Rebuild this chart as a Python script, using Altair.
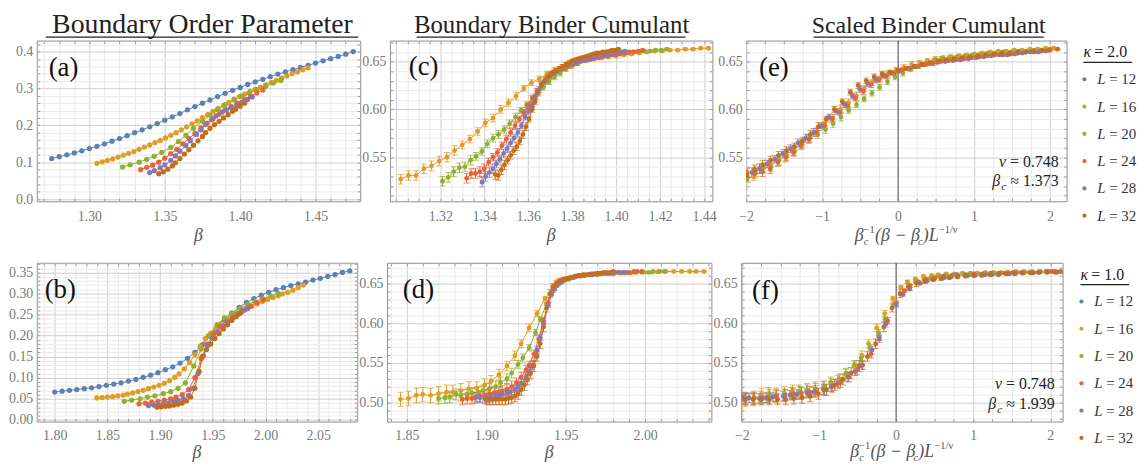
import altair as alt
import pandas as pd

FONT = "Liberation Serif"
SIZES = [12, 16, 20, 24, 28, 32]
COLORS = ["#5E81B5", "#E19C24", "#8FB032", "#EB6235", "#8778B3", "#C56E1A"]
LABEL_GRAY = "#7a7a7a"
FRAME_GRAY = "#8f8f8f"
TEXT_DARK = "#222222"

# ---------------- panel (a): boundary order parameter, kappa = 2.0 ----------------
a_x_12 = [1.275, 1.280, 1.285, 1.290, 1.295, 1.300, 1.305, 1.310, 1.315, 1.320, 1.325, 1.330, 1.335, 1.340,
          1.345, 1.350, 1.355, 1.360, 1.365, 1.370, 1.375, 1.380, 1.385, 1.390, 1.395, 1.400, 1.405, 1.410,
          1.415, 1.420, 1.425, 1.430, 1.435, 1.440, 1.445, 1.450, 1.455, 1.460, 1.465, 1.470, 1.475]
a_y_12 = [0.110, 0.115, 0.120, 0.125, 0.131, 0.137, 0.143, 0.150, 0.157, 0.164, 0.172, 0.180, 0.188, 0.196,
          0.205, 0.214, 0.223, 0.232, 0.242, 0.251, 0.260, 0.269, 0.278, 0.287, 0.295, 0.303, 0.311, 0.318,
          0.325, 0.332, 0.339, 0.345, 0.351, 0.357, 0.363, 0.369, 0.375, 0.381, 0.387, 0.393, 0.400]
a_x_16 = [1.305, 1.3085, 1.312, 1.3155, 1.319, 1.3225, 1.326, 1.3295, 1.333, 1.3365, 1.340, 1.3435, 1.347,
          1.3505, 1.354, 1.3575, 1.361, 1.3645, 1.368, 1.3715, 1.375, 1.3785, 1.382, 1.3855, 1.389, 1.3925,
          1.396, 1.3995, 1.403, 1.4065, 1.410, 1.4135, 1.417, 1.4205, 1.424, 1.4275, 1.431, 1.4345, 1.438,
          1.4415, 1.445]
a_y_16 = [0.097, 0.101, 0.105, 0.109, 0.114, 0.119, 0.124, 0.129, 0.135, 0.141, 0.147, 0.153, 0.159, 0.166,
          0.173, 0.180, 0.188, 0.196, 0.204, 0.212, 0.221, 0.229, 0.238, 0.246, 0.254, 0.262, 0.271, 0.278,
          0.285, 0.292, 0.298, 0.304, 0.310, 0.316, 0.322, 0.328, 0.334, 0.340, 0.345, 0.351, 0.356]
a_x_20 = [1.322, 1.327, 1.333, 1.338, 1.343, 1.348, 1.354, 1.359, 1.364, 1.369, 1.375, 1.380, 1.385, 1.390,
          1.396, 1.401, 1.406, 1.411, 1.417, 1.422, 1.427]
a_y_20 = [0.087, 0.093, 0.100, 0.108, 0.116, 0.127, 0.140, 0.156, 0.173, 0.192, 0.211, 0.228, 0.243, 0.256,
          0.269, 0.279, 0.288, 0.297, 0.306, 0.315, 0.322]
a_x_24 = [1.334, 1.338, 1.342, 1.346, 1.350, 1.354, 1.358, 1.362, 1.366, 1.370, 1.374, 1.378, 1.382, 1.386,
          1.390, 1.394, 1.398, 1.403, 1.407, 1.411, 1.415]
a_y_24 = [0.080, 0.086, 0.092, 0.100, 0.111, 0.123, 0.135, 0.150, 0.164, 0.178, 0.193, 0.206, 0.218, 0.230,
          0.241, 0.251, 0.260, 0.270, 0.279, 0.288, 0.296]
a_x_28 = [1.340, 1.343, 1.347, 1.350, 1.354, 1.357, 1.360, 1.364, 1.367, 1.371, 1.374, 1.377, 1.381, 1.384,
          1.388, 1.391, 1.394, 1.398, 1.401, 1.405, 1.408]
a_y_28 = [0.072, 0.077, 0.085, 0.093, 0.105, 0.117, 0.130, 0.145, 0.158, 0.175, 0.188, 0.202, 0.215, 0.226,
          0.236, 0.242, 0.248, 0.255, 0.262, 0.270, 0.277]
a_x_32 = [1.346, 1.349, 1.352, 1.355, 1.357, 1.360, 1.363, 1.366, 1.369, 1.372, 1.375, 1.377, 1.380, 1.383,
          1.386, 1.389, 1.392, 1.395, 1.397, 1.400, 1.403]
a_y_32 = [0.069, 0.074, 0.081, 0.090, 0.098, 0.110, 0.122, 0.134, 0.146, 0.158, 0.170, 0.180, 0.192, 0.202,
          0.211, 0.220, 0.229, 0.238, 0.244, 0.252, 0.260]

# ---------------- panel (b): boundary order parameter, kappa = 1.0 ----------------
b_x_12 = [1.800, 1.807, 1.814, 1.821, 1.828, 1.835, 1.842, 1.849, 1.856, 1.863, 1.870, 1.877, 1.884, 1.891,
          1.898, 1.905, 1.912, 1.919, 1.926, 1.933, 1.940, 1.947, 1.954, 1.961, 1.968, 1.975, 1.982, 1.989,
          1.996, 2.003, 2.010, 2.017, 2.024, 2.031, 2.038, 2.045, 2.052, 2.059, 2.066, 2.073, 2.080]
b_y_12 = [0.066, 0.068, 0.070, 0.072, 0.074, 0.076, 0.079, 0.082, 0.085, 0.088, 0.092, 0.096, 0.101, 0.106,
          0.112, 0.119, 0.126, 0.135, 0.146, 0.160, 0.178, 0.199, 0.219, 0.236, 0.253, 0.267, 0.279, 0.288,
          0.296, 0.303, 0.309, 0.314, 0.319, 0.323, 0.327, 0.332, 0.336, 0.341, 0.345, 0.350, 0.354]
b_x_16 = [1.840, 1.845, 1.850, 1.855, 1.860, 1.865, 1.869, 1.874, 1.879, 1.884, 1.889, 1.894, 1.899, 1.904,
          1.909, 1.914, 1.918, 1.923, 1.928, 1.933, 1.938, 1.943, 1.948, 1.953, 1.958, 1.963, 1.967, 1.972,
          1.977, 1.982, 1.987, 1.992, 1.997, 2.002, 2.007, 2.012, 2.016, 2.021, 2.026, 2.031, 2.036]
b_y_16 = [0.052, 0.053, 0.054, 0.055, 0.057, 0.059, 0.061, 0.064, 0.067, 0.070, 0.074, 0.078, 0.082, 0.087,
          0.093, 0.101, 0.109, 0.121, 0.136, 0.155, 0.175, 0.193, 0.206, 0.218, 0.229, 0.238, 0.245, 0.252,
          0.258, 0.264, 0.270, 0.276, 0.281, 0.286, 0.290, 0.295, 0.299, 0.303, 0.308, 0.314, 0.320]
b_x_20 = [1.866, 1.873, 1.881, 1.888, 1.895, 1.903, 1.910, 1.917, 1.924, 1.932, 1.939, 1.946, 1.954, 1.961,
          1.968, 1.976, 1.983, 1.990, 1.997, 2.005, 2.012]
b_y_20 = [0.044, 0.047, 0.050, 0.054, 0.057, 0.062, 0.067, 0.075, 0.088, 0.128, 0.168, 0.200, 0.226, 0.242,
          0.254, 0.265, 0.274, 0.281, 0.288, 0.294, 0.300]
b_x_24 = [1.880, 1.886, 1.892, 1.898, 1.904, 1.910, 1.915, 1.921, 1.927, 1.933, 1.939, 1.945, 1.951, 1.957,
          1.963, 1.969, 1.974, 1.980, 1.986, 1.992, 1.998]
b_y_24 = [0.038, 0.040, 0.042, 0.044, 0.047, 0.050, 0.054, 0.060, 0.072, 0.100, 0.145, 0.180, 0.205, 0.222,
          0.234, 0.244, 0.252, 0.261, 0.270, 0.278, 0.285]
b_x_28 = [1.889, 1.894, 1.898, 1.903, 1.908, 1.913, 1.917, 1.922, 1.927, 1.931, 1.936, 1.941, 1.945, 1.950,
          1.955, 1.960, 1.964, 1.969, 1.974, 1.978, 1.983]
b_y_28 = [0.034, 0.035, 0.036, 0.038, 0.040, 0.043, 0.046, 0.050, 0.058, 0.075, 0.110, 0.152, 0.176, 0.194,
          0.209, 0.222, 0.232, 0.242, 0.251, 0.258, 0.264]
b_x_32 = [1.897, 1.901, 1.905, 1.909, 1.913, 1.917, 1.921, 1.925, 1.929, 1.933, 1.937, 1.940, 1.944, 1.948,
          1.952, 1.956, 1.960, 1.964, 1.968, 1.972, 1.976]
b_y_32 = [0.030, 0.031, 0.032, 0.033, 0.035, 0.037, 0.040, 0.045, 0.054, 0.075, 0.115, 0.150, 0.167, 0.180,
          0.193, 0.205, 0.216, 0.226, 0.236, 0.245, 0.253]

# ---------------- panel (c): boundary Binder cumulant, kappa = 2.0 ----------------
c_x_16 = [1.302, 1.3055, 1.309, 1.3125, 1.316, 1.3195, 1.323, 1.3265, 1.330, 1.3335, 1.337, 1.3405, 1.344,
          1.3475, 1.351, 1.3545, 1.358, 1.3615, 1.365, 1.3685, 1.372, 1.3755, 1.379, 1.3825, 1.386, 1.3895,
          1.393, 1.3965, 1.400, 1.4035, 1.407, 1.4105, 1.414, 1.4175, 1.421, 1.4245, 1.428, 1.4315, 1.435,
          1.4385, 1.442]
c_y_16 = [0.527, 0.531, 0.531, 0.538, 0.541, 0.546, 0.550, 0.557, 0.563, 0.569, 0.577, 0.586, 0.591, 0.600,
          0.607, 0.614, 0.622, 0.628, 0.632, 0.637, 0.641, 0.644, 0.647, 0.649, 0.651, 0.653, 0.654, 0.655,
          0.656, 0.657, 0.658, 0.659, 0.660, 0.661, 0.661, 0.662, 0.662, 0.663, 0.663, 0.664, 0.664]
c_e_16 = [0.005, 0.005, 0.005, 0.005, 0.005, 0.005, 0.005, 0.005, 0.004, 0.004, 0.004, 0.004, 0.004, 0.004,
          0.004, 0.004, 0.003, 0.003, 0.003, 0.003, 0.003, 0.003, 0.003, 0.002, 0.002, 0.002, 0.002, 0.002,
          0.002, 0.001, 0.001, 0.001, 0.001, 0.001, 0.001, 0.001, 0.001, 0.001, 0.001, 0.001, 0.001]
c_x_20 = [1.321, 1.3236, 1.3261, 1.3287, 1.3312, 1.3338, 1.3363, 1.3389, 1.3414, 1.344, 1.3465, 1.3491,
          1.3516, 1.3542, 1.3567, 1.3593, 1.3618, 1.3644, 1.3669, 1.3695, 1.372, 1.3746, 1.3771, 1.3797,
          1.3822, 1.3848, 1.3873, 1.3899, 1.3924, 1.395, 1.3975, 1.4001, 1.4026, 1.4052, 1.4077, 1.4103,
          1.4128, 1.4154, 1.4179, 1.4205, 1.423]
c_y_20 = [0.525, 0.529, 0.535, 0.539, 0.540, 0.547, 0.551, 0.556, 0.564, 0.570, 0.574, 0.579, 0.585, 0.592,
          0.599, 0.605, 0.611, 0.617, 0.623, 0.629, 0.634, 0.638, 0.642, 0.645, 0.648, 0.651, 0.653, 0.654,
          0.655, 0.656, 0.657, 0.658, 0.659, 0.659, 0.660, 0.660, 0.661, 0.661, 0.662, 0.662, 0.663]
c_e_20 = [0.005, 0.005, 0.005, 0.005, 0.005, 0.005, 0.004, 0.004, 0.004, 0.004, 0.004, 0.004, 0.004, 0.004,
          0.003, 0.003, 0.003, 0.003, 0.003, 0.003, 0.003, 0.003, 0.002, 0.002, 0.002, 0.002, 0.002, 0.002,
          0.001, 0.001, 0.001, 0.001, 0.001, 0.001, 0.001, 0.001, 0.001, 0.001, 0.001, 0.001, 0.001]
c_x_24 = [1.332, 1.334, 1.336, 1.338, 1.340, 1.342, 1.344, 1.346, 1.348, 1.350, 1.352, 1.354, 1.356, 1.358,
          1.360, 1.362, 1.364, 1.366, 1.368, 1.370, 1.372, 1.374, 1.376, 1.378, 1.380, 1.382, 1.384, 1.386,
          1.388, 1.390, 1.392, 1.394, 1.396, 1.398, 1.400, 1.402, 1.404, 1.406, 1.408, 1.410, 1.412]
c_y_24 = [0.528, 0.533, 0.533, 0.535, 0.538, 0.545, 0.550, 0.555, 0.562, 0.569, 0.576, 0.583, 0.590, 0.597,
          0.604, 0.612, 0.619, 0.626, 0.631, 0.635, 0.638, 0.641, 0.643, 0.645, 0.647, 0.648, 0.650, 0.651,
          0.652, 0.653, 0.654, 0.655, 0.656, 0.657, 0.657, 0.658, 0.659, 0.660, 0.660, 0.661, 0.662]
c_e_24 = [0.005, 0.005, 0.005, 0.005, 0.005, 0.004, 0.004, 0.004, 0.004, 0.004, 0.004, 0.004, 0.003, 0.003,
          0.003, 0.003, 0.003, 0.003, 0.003, 0.003, 0.002, 0.002, 0.002, 0.002, 0.002, 0.002, 0.001, 0.001,
          0.001, 0.001, 0.001, 0.001, 0.001, 0.001, 0.001, 0.001, 0.001, 0.001, 0.001, 0.001, 0.001]
c_x_28 = [1.3390, 1.3406, 1.3423, 1.3439, 1.3455, 1.3471, 1.3488, 1.3504, 1.3520, 1.3536, 1.3553, 1.3569,
          1.3585, 1.3601, 1.3618, 1.3634, 1.3650, 1.3666, 1.3683, 1.3699, 1.3715, 1.3731, 1.3748, 1.3764,
          1.3780, 1.3796, 1.3813, 1.3829, 1.3845, 1.3861, 1.3878, 1.3894, 1.3910, 1.3926, 1.3943, 1.3959,
          1.3975, 1.3991, 1.4008, 1.4024, 1.4040]
c_y_28 = [0.524, 0.530, 0.534, 0.538, 0.543, 0.548, 0.554, 0.559, 0.565, 0.570, 0.576, 0.583, 0.592, 0.598,
          0.605, 0.614, 0.621, 0.627, 0.631, 0.635, 0.638, 0.640, 0.643, 0.645, 0.647, 0.648, 0.649, 0.650,
          0.651, 0.652, 0.653, 0.654, 0.655, 0.656, 0.657, 0.657, 0.658, 0.659, 0.660, 0.660, 0.661]
c_e_28 = [0.005, 0.005, 0.005, 0.005, 0.004, 0.004, 0.004, 0.004, 0.004, 0.004, 0.004, 0.003, 0.003, 0.003,
          0.003, 0.003, 0.003, 0.003, 0.003, 0.002, 0.002, 0.002, 0.002, 0.002, 0.002, 0.001, 0.001, 0.001,
          0.001, 0.001, 0.001, 0.001, 0.001, 0.001, 0.001, 0.001, 0.001, 0.001, 0.001, 0.001, 0.001]
c_x_32 = [1.3450, 1.3464, 1.3478, 1.3492, 1.3506, 1.3520, 1.3534, 1.3548, 1.3562, 1.3576, 1.3590, 1.3604,
          1.3618, 1.3632, 1.3646, 1.3660, 1.3674, 1.3688, 1.3702, 1.3716, 1.3730, 1.3744, 1.3758, 1.3772,
          1.3786, 1.3800, 1.3814, 1.3828, 1.3842, 1.3856, 1.3870, 1.3884, 1.3898, 1.3912, 1.3926, 1.3940,
          1.3954, 1.3968, 1.3982, 1.3996, 1.4010]
c_y_32 = [0.532, 0.531, 0.537, 0.542, 0.547, 0.552, 0.557, 0.561, 0.567, 0.574, 0.582, 0.590, 0.600, 0.608,
          0.618, 0.625, 0.630, 0.634, 0.637, 0.639, 0.641, 0.643, 0.645, 0.647, 0.649, 0.651, 0.652, 0.653,
          0.654, 0.655, 0.656, 0.657, 0.658, 0.659, 0.659, 0.660, 0.660, 0.661, 0.662, 0.662, 0.663]
c_e_32 = [0.005, 0.005, 0.005, 0.005, 0.004, 0.004, 0.004, 0.004, 0.004, 0.004, 0.004, 0.003, 0.003, 0.003,
          0.003, 0.003, 0.003, 0.003, 0.003, 0.002, 0.002, 0.002, 0.002, 0.002, 0.002, 0.001, 0.001, 0.001,
          0.001, 0.001, 0.001, 0.001, 0.001, 0.001, 0.001, 0.001, 0.001, 0.001, 0.001, 0.001, 0.001]

# ---------------- panel (d): boundary Binder cumulant, kappa = 1.0 ----------------
d_x_16 = [1.846, 1.851, 1.856, 1.860, 1.865, 1.870, 1.875, 1.879, 1.884, 1.889, 1.894, 1.899, 1.903, 1.908,
          1.913, 1.918, 1.922, 1.927, 1.932, 1.937, 1.942, 1.946, 1.951, 1.956, 1.961, 1.965, 1.970, 1.975,
          1.980, 1.985, 1.989, 1.994, 1.999, 2.004, 2.008, 2.013, 2.018, 2.023, 2.028, 2.032, 2.037]
d_y_16 = [0.504, 0.505, 0.509, 0.510, 0.509, 0.511, 0.513, 0.513, 0.515, 0.517, 0.518, 0.522, 0.527, 0.535,
          0.546, 0.559, 0.574, 0.594, 0.612, 0.631, 0.645, 0.652, 0.656, 0.659, 0.660, 0.661, 0.662, 0.662,
          0.663, 0.663, 0.663, 0.664, 0.664, 0.664, 0.6645, 0.665, 0.665, 0.665, 0.665, 0.665, 0.665]
d_e_16 = [0.009, 0.009, 0.009, 0.009, 0.009, 0.009, 0.009, 0.009, 0.009, 0.009, 0.008, 0.008, 0.007, 0.007,
          0.006, 0.006, 0.005, 0.005, 0.004, 0.003, 0.002, 0.002, 0.001, 0.001, 0.001, 0.001, 0.001, 0.001,
          0.001, 0.001, 0.001, 0.001, 0.001, 0.001, 0.001, 0.001, 0.001, 0.001, 0.001, 0.001, 0.001]
d_x_20 = [1.870, 1.874, 1.877, 1.881, 1.884, 1.888, 1.891, 1.895, 1.898, 1.902, 1.906, 1.909, 1.913, 1.916,
          1.920, 1.923, 1.927, 1.931, 1.934, 1.938, 1.941, 1.945, 1.948, 1.952, 1.955, 1.959, 1.962, 1.966,
          1.970, 1.973, 1.977, 1.980, 1.984, 1.987, 1.991, 1.994, 1.998, 2.002, 2.005, 2.009, 2.012]
d_y_20 = [0.505, 0.506, 0.507, 0.510, 0.509, 0.510, 0.512, 0.513, 0.515, 0.517, 0.520, 0.525, 0.530, 0.537,
          0.548, 0.556, 0.569, 0.588, 0.605, 0.624, 0.637, 0.648, 0.652, 0.655, 0.657, 0.659, 0.660, 0.661,
          0.661, 0.662, 0.662, 0.662, 0.663, 0.663, 0.663, 0.664, 0.664, 0.664, 0.665, 0.665, 0.665]
d_e_20 = [0.007, 0.007, 0.007, 0.007, 0.007, 0.007, 0.007, 0.007, 0.007, 0.007, 0.007, 0.007, 0.006, 0.006,
          0.005, 0.005, 0.004, 0.004, 0.003, 0.002, 0.002, 0.001, 0.001, 0.001, 0.001, 0.001, 0.001, 0.001,
          0.001, 0.001, 0.001, 0.001, 0.001, 0.001, 0.001, 0.001, 0.001, 0.001, 0.001, 0.001, 0.001]
d_x_24 = [1.885, 1.888, 1.891, 1.893, 1.896, 1.899, 1.902, 1.905, 1.908, 1.910, 1.913, 1.916, 1.919, 1.922,
          1.925, 1.927, 1.930, 1.933, 1.936, 1.939, 1.942, 1.944, 1.947, 1.950, 1.953, 1.956, 1.959, 1.961,
          1.964, 1.967, 1.970, 1.973, 1.976, 1.978, 1.981, 1.984, 1.987, 1.990, 1.993, 1.995, 1.998]
d_y_24 = [0.504, 0.505, 0.505, 0.506, 0.508, 0.509, 0.511, 0.512, 0.513, 0.514, 0.516, 0.520, 0.525, 0.532,
          0.541, 0.547, 0.561, 0.580, 0.603, 0.625, 0.641, 0.647, 0.652, 0.655, 0.657, 0.659, 0.660, 0.661,
          0.661, 0.662, 0.662, 0.663, 0.663, 0.663, 0.664, 0.664, 0.664, 0.664, 0.665, 0.665, 0.665]
d_e_24 = [0.007, 0.007, 0.007, 0.007, 0.007, 0.007, 0.007, 0.007, 0.007, 0.007, 0.007, 0.007, 0.006, 0.006,
          0.006, 0.005, 0.005, 0.004, 0.004, 0.003, 0.002, 0.002, 0.001, 0.001, 0.001, 0.001, 0.001, 0.001,
          0.001, 0.001, 0.001, 0.001, 0.001, 0.001, 0.001, 0.001, 0.001, 0.001, 0.001, 0.001, 0.001]
d_x_28 = [1.894, 1.896, 1.899, 1.901, 1.903, 1.906, 1.908, 1.910, 1.913, 1.915, 1.918, 1.920, 1.922, 1.925,
          1.927, 1.929, 1.932, 1.934, 1.936, 1.939, 1.941, 1.943, 1.946, 1.948, 1.950, 1.953, 1.955, 1.957,
          1.960, 1.962, 1.965, 1.967, 1.969, 1.972, 1.974, 1.976, 1.979, 1.981, 1.983, 1.986, 1.988]
d_y_28 = [0.507, 0.506, 0.505, 0.506, 0.507, 0.508, 0.509, 0.510, 0.512, 0.513, 0.516, 0.520, 0.524, 0.532,
          0.539, 0.547, 0.566, 0.582, 0.599, 0.623, 0.636, 0.643, 0.650, 0.653, 0.655, 0.657, 0.658, 0.659,
          0.660, 0.660, 0.661, 0.661, 0.662, 0.662, 0.663, 0.663, 0.663, 0.664, 0.664, 0.664, 0.664]
d_e_28 = [0.006, 0.006, 0.006, 0.006, 0.006, 0.006, 0.006, 0.006, 0.006, 0.006, 0.006, 0.006, 0.006, 0.006,
          0.005, 0.005, 0.005, 0.004, 0.004, 0.003, 0.002, 0.002, 0.001, 0.001, 0.001, 0.001, 0.001, 0.001,
          0.001, 0.001, 0.001, 0.001, 0.001, 0.001, 0.001, 0.001, 0.001, 0.001, 0.001, 0.001, 0.001]
d_x_32 = [1.900, 1.902, 1.904, 1.906, 1.908, 1.910, 1.912, 1.914, 1.916, 1.918, 1.920, 1.922, 1.924, 1.926,
          1.928, 1.930, 1.932, 1.934, 1.936, 1.938, 1.940, 1.942, 1.944, 1.946, 1.948, 1.950, 1.952, 1.954,
          1.956, 1.958, 1.960, 1.962, 1.964, 1.966, 1.968, 1.970, 1.972, 1.974, 1.976, 1.978, 1.980]
d_y_32 = [0.504, 0.504, 0.504, 0.504, 0.504, 0.504, 0.504, 0.505, 0.506, 0.508, 0.511, 0.516, 0.522, 0.529,
          0.537, 0.546, 0.558, 0.574, 0.595, 0.619, 0.637, 0.646, 0.650, 0.653, 0.655, 0.656, 0.657, 0.658,
          0.659, 0.660, 0.660, 0.661, 0.661, 0.662, 0.662, 0.663, 0.663, 0.664, 0.664, 0.664, 0.665]
d_e_32 = [0.007, 0.007, 0.007, 0.007, 0.007, 0.007, 0.007, 0.007, 0.007, 0.007, 0.007, 0.007, 0.007, 0.007,
          0.007, 0.007, 0.006, 0.006, 0.006, 0.005, 0.005, 0.004, 0.004, 0.003, 0.002, 0.002, 0.001, 0.001,
          0.001, 0.001, 0.001, 0.001, 0.001, 0.001, 0.001, 0.001, 0.001, 0.001, 0.001, 0.001, 0.001]

# scaling parameters (panels e, f)
NU = 0.748
BETA_C_K2 = 1.373
BETA_C_K1 = 1.939

COLUMN_TITLES = ["Boundary Order Parameter", "Boundary Binder Cumulant", "Scaled Binder Cumulant"]


# ---------------- helpers ----------------
def series_table(xs, ys, sizes, errs=None):
    rows = []
    for k, L in enumerate(sizes):
        e = errs[k] if errs is not None else [0.0] * len(xs[k])
        for b, v, s in zip(xs[k], ys[k], e):
            rows.append({"beta": b, "val": v, "lo": v - s, "hi": v + s, "L": L})
    return pd.DataFrame(rows)


def tick_values(lo, hi, step):
    n = int(round((hi - lo) / step))
    return [round(lo + i * step, 6) for i in range(n + 1)]


def main_axis(orient, vals, major, fmt, extent=None, pad=4, label_min=None):
    test = f"abs(datum.value/{major} - round(datum.value/{major})) < 1e-6"
    ltest = test if label_min is None else f"{test} && datum.value > {label_min}"
    kw = dict(orient=orient, values=vals, grid=True,
              gridColor={"condition": {"test": test, "value": "#cdcdcd"}, "value": "#eaeaea"},
              gridWidth=1, domain=False, ticks=True, tickColor="#9a9a9a", tickSize=3, offset=-3,
              labelExpr=f"({ltest}) ? format(datum.value, '{fmt}') : ''",
              labelFont=FONT, labelFontSize=14, labelColor=LABEL_GRAY, labelPadding=pad,
              labelOverlap=False, labelFlush=False, title=None)
    if extent is not None:
        kw["minExtent"] = extent
        kw["maxExtent"] = extent
    return alt.Axis(**kw)


def ghost_axis(orient, vals):
    return alt.Axis(orient=orient, values=vals, grid=False, domain=False, ticks=True,
                    tickColor="#9a9a9a", tickSize=3, offset=-3, labels=False, title=None,
                    minExtent=0, maxExtent=0)


ONE = pd.DataFrame({"k": [0]})


def txt(s, x, y, size=16, style="normal", align="left", color=TEXT_DARK, baseline="alphabetic"):
    return alt.Chart(ONE).mark_text(text=s, font=FONT, fontSize=size, fontStyle=style, align=align,
                                    baseline=baseline, color=color).encode(x=alt.value(x), y=alt.value(y))


def hline(x0, x1, y, color=TEXT_DARK, width=1.2):
    return alt.Chart(ONE).mark_rule(color=color, strokeWidth=width).encode(
        x=alt.value(x0), x2=alt.value(x1), y=alt.value(y))


COLOR_ENC = alt.Color("L:N", scale=alt.Scale(domain=SIZES, range=COLORS), legend=None)


def panel(df, xfield, xdom, ydom, xv, xmaj, xfmt, yv, ymaj, yfmt, W, H, yext,
          lines=True, errbars=False, calc=None, extras=(), psize=28, xlabel_min=None, xpad=8):
    xs = alt.Scale(domain=xdom, nice=False, zero=False)
    ys = alt.Scale(domain=ydom, nice=False, zero=False)
    base = alt.Chart(df)
    if calc:
        base = base.transform_calculate(**calc)
    xq = f"{xfield}:Q"
    layers = []
    layers.append(base.mark_point(opacity=0).encode(
        x=alt.X(xq, scale=xs, axis=main_axis("bottom", xv, xmaj, xfmt, pad=xpad, label_min=xlabel_min)),
        y=alt.Y("val:Q", scale=ys, axis=main_axis("left", yv, ymaj, yfmt, yext, pad=4))))
    layers.append(base.mark_point(opacity=0).encode(
        x=alt.X(xq, scale=xs, axis=ghost_axis("top", xv)),
        y=alt.Y("val:Q", scale=ys, axis=ghost_axis("right", yv))))
    for e in extras:
        if e[0] == "under":
            layers.append(e[1])
    if lines:
        layers.append(base.mark_line(strokeWidth=1, clip=True).encode(
            x=alt.X(xq, scale=xs, axis=None), y=alt.Y("val:Q", scale=ys, axis=None),
            color=COLOR_ENC, detail="L:N"))
    if errbars:
        layers.append(base.mark_rule(strokeWidth=1, clip=True).encode(
            x=alt.X(xq, scale=xs, axis=None), y=alt.Y("lo:Q", scale=ys, axis=None), y2="hi:Q",
            color=COLOR_ENC))
        for f in ("lo", "hi"):
            layers.append(base.mark_tick(orient="horizontal", size=6, thickness=1, clip=True).encode(
                x=alt.X(xq, scale=xs, axis=None), y=alt.Y(f"{f}:Q", scale=ys, axis=None),
                color=COLOR_ENC))
    layers.append(base.mark_circle(size=psize, opacity=1, clip=True).encode(
        x=alt.X(xq, scale=xs, axis=None), y=alt.Y("val:Q", scale=ys, axis=None), color=COLOR_ENC))
    for e in extras:
        if e[0] == "over":
            layers.append(e[1])
    return alt.layer(*layers).resolve_axis(x="independent", y="independent").properties(width=W, height=H)


def beta_title(W, y):
    return ("over", txt("β", W / 2, y, size=18, style="italic", align="center", color="#555555"))


def scaled_title(cx, base):
    x0 = cx - 54
    pieces = [(0, "β", 18, "italic", 0), (9.0, "−1", 10.5, "normal", -8), (9.0, "c", 10.5, "italic", 4),
              (20.5, "(β − β", 18, "italic", 0), (63.7, "c", 10.5, "italic", 4), (68.6, ")L", 18, "italic", 0),
              (84.8, "−1/ν", 10.5, "normal", -8)]
    return [("over", txt(s, x0 + dx, base + dy, size=sz, style=st, color="#555555"))
            for dx, s, sz, st, dy in pieces]


def annotations(W, y1, y2, bc):
    X = W - 8
    return [("over", txt("= 0.748", X, y1, size=16, align="right")),
            ("over", txt("ν", X - 53, y1, size=16, style="italic", align="right")),
            ("over", txt(f"≈ {bc}", X, y2, size=16, align="right")),
            ("over", txt("c", X - 53, y2 + 4, size=11, style="italic", align="right")),
            ("over", txt("β", X - 59, y2, size=16, style="italic", align="right"))]


def col_title(text, cx, x0, x1, size):
    return [("over", txt(text, cx, -8, size=size, align="center", color=TEXT_DARK)),
            ("over", hline(x0, x1, -3.5))]


def letter(s, x, y):
    return ("over", txt(s, x, y, size=27, color="#111111"))


def zero_line(xdom):
    d = pd.DataFrame({"x0": [0.0]})
    return ("under", alt.Chart(d).mark_rule(color="#555555", strokeWidth=1).encode(
        x=alt.X("x0:Q", scale=alt.Scale(domain=xdom, nice=False, zero=False), axis=None)))


def legend_panel(kappa, H, dx):
    d = pd.DataFrame({"L": SIZES, "eq": [f"= {L}" for L in SIZES]})
    yenc = alt.Y("L:O", scale=alt.Scale(type="point", domain=SIZES, range=[39, 176.5], padding=0), axis=None)
    dots = alt.Chart(d).mark_circle(size=18, opacity=1).encode(x=alt.value(dx), y=yenc, color=COLOR_ENC)
    lt = alt.Chart(d).mark_text(font=FONT, fontSize=15, fontStyle="italic", align="left", baseline="middle",
                                color="#333333").encode(x=alt.value(dx + 13), y=yenc, text=alt.value("L"))
    eq = alt.Chart(d).mark_text(font=FONT, fontSize=15, align="left", baseline="middle",
                                color="#333333").encode(x=alt.value(dx + 25), y=yenc, text="eq:N")
    t1 = txt("κ", dx - 1, 17, size=16, style="italic", color=TEXT_DARK)
    t2 = txt(f"= {kappa}", dx + 10, 17, size=16, color=TEXT_DARK)
    ul = hline(dx - 1, dx + 48, 22)
    return alt.layer(dots, lt, eq, t1, t2, ul).properties(
        width=50, height=H, view=alt.ViewBackground(stroke="transparent"))


# ---------------- tables ----------------
df_a = series_table([a_x_12, a_x_16, a_x_20, a_x_24, a_x_28, a_x_32],
                    [a_y_12, a_y_16, a_y_20, a_y_24, a_y_28, a_y_32], SIZES)
df_b = series_table([b_x_12, b_x_16, b_x_20, b_x_24, b_x_28, b_x_32],
                    [b_y_12, b_y_16, b_y_20, b_y_24, b_y_28, b_y_32], SIZES)
df_c = series_table([c_x_16, c_x_20, c_x_24, c_x_28, c_x_32], [c_y_16, c_y_20, c_y_24, c_y_28, c_y_32],
                    SIZES[1:], [c_e_16, c_e_20, c_e_24, c_e_28, c_e_32])
df_d = series_table([d_x_16, d_x_20, d_x_24, d_x_28, d_x_32], [d_y_16, d_y_20, d_y_24, d_y_28, d_y_32],
                    SIZES[1:], [d_e_16, d_e_20, d_e_24, d_e_28, d_e_32])

H1, H2 = 162, 160

# ---------------- row 1 (kappa = 2.0) ----------------
Wa, Wc, We = 326, 325, 323
pa = panel(df_a, "beta", [1.2651, 1.4796], [-0.006, 0.430],
           tick_values(1.27, 1.47, 0.01), 0.05, ".2f", tick_values(0.0, 0.42, 0.02), 0.1, ".1f",
           Wa, H1, 23, lines=True,
           extras=[letter("(a)", 12, 36), beta_title(Wa, H1 + 40)] +
                  col_title(COLUMN_TITLES[0], 167, 9, 324, 28))
pc = panel(df_c, "beta", [1.2971, 1.4438], [0.504, 0.672],
           tick_values(1.30, 1.44, 0.005), 0.02, ".2f", tick_values(0.51, 0.67, 0.01), 0.05, ".2f",
           Wc, H1, 31, lines=True, errbars=True, psize=24, xlabel_min=1.305,
           extras=[letter("(c)", 19, 35), beta_title(Wc, H1 + 40)] +
                  col_title(COLUMN_TITLES[1], 163, 27, 298, 25))
calc_e = {"xs": f"(datum.beta - {BETA_C_K2}) / {BETA_C_K2} * pow(datum.L, 1 / {NU})"}
pe = panel(df_c, "xs", [-2.0, 2.217], [0.504, 0.672],
           tick_values(-2.0, 2.0, 0.25), 1, "d", tick_values(0.51, 0.67, 0.01), 0.05, ".2f",
           We, H1, 28.5, lines=False, errbars=True, calc=calc_e, psize=24,
           extras=[zero_line([-2.0, 2.217]), letter("(e)", 13, 36)] +
                  annotations(We, 127, 147, BETA_C_K2) + scaled_title(We / 2 + 2, H1 + 40) +
                  col_title(COLUMN_TITLES[2], 184, 68, 300, 24))
leg1 = legend_panel("2.0", 210, 16)
row1 = alt.hconcat(pa, pc, pe, leg1, spacing=0)

# ---------------- row 2 (kappa = 1.0) ----------------
Wb, Wd, Wf = 323, 327, 324
pb = panel(df_b, "beta", [1.783, 2.087], [-0.004, 0.373],
           tick_values(1.79, 2.08, 0.01), 0.05, ".2f", tick_values(0.0, 0.37, 0.01), 0.05, ".2f",
           Wb, H2, 27, lines=True, xpad=7,
           extras=[letter("(b)", 8, 35), beta_title(Wb, H2 + 37)])
pd_ = panel(df_d, "beta", [1.8375, 2.0417], [0.476, 0.676],
            tick_values(1.84, 2.04, 0.01), 0.05, ".2f", tick_values(0.48, 0.67, 0.01), 0.05, ".2f",
            Wd, H2, 24, lines=True, errbars=True, psize=24, xpad=7,
            extras=[letter("(d)", 16, 35), beta_title(Wd, H2 + 37)])
calc_f = {"xs": f"(datum.beta - {BETA_C_K1}) / {BETA_C_K1} * pow(datum.L, 1 / {NU})"}
pf = panel(df_d, "xs", [-2.01, 2.16], [0.476, 0.676],
           tick_values(-2.0, 2.0, 0.25), 1, "d", tick_values(0.48, 0.67, 0.01), 0.05, ".2f",
           Wf, H2, 30, lines=False, errbars=True, calc=calc_f, psize=24, xpad=7,
           extras=[zero_line([-2.01, 2.16]), letter("(f)", 11, 36)] +
                  annotations(Wf, 127, 147, BETA_C_K1) + scaled_title(Wf / 2 + 2, H2 + 36))
leg2 = legend_panel("1.0", 185, 13)
row2 = alt.hconcat(pb, pd_, pf, leg2, spacing=0)

chart = alt.vconcat(row1, row2, spacing=6).properties(padding=0, background="white").configure_view(
    stroke=FRAME_GRAY, strokeWidth=1)

chart.save("out.html", embed_options={"renderer": "svg", "actions": False})
